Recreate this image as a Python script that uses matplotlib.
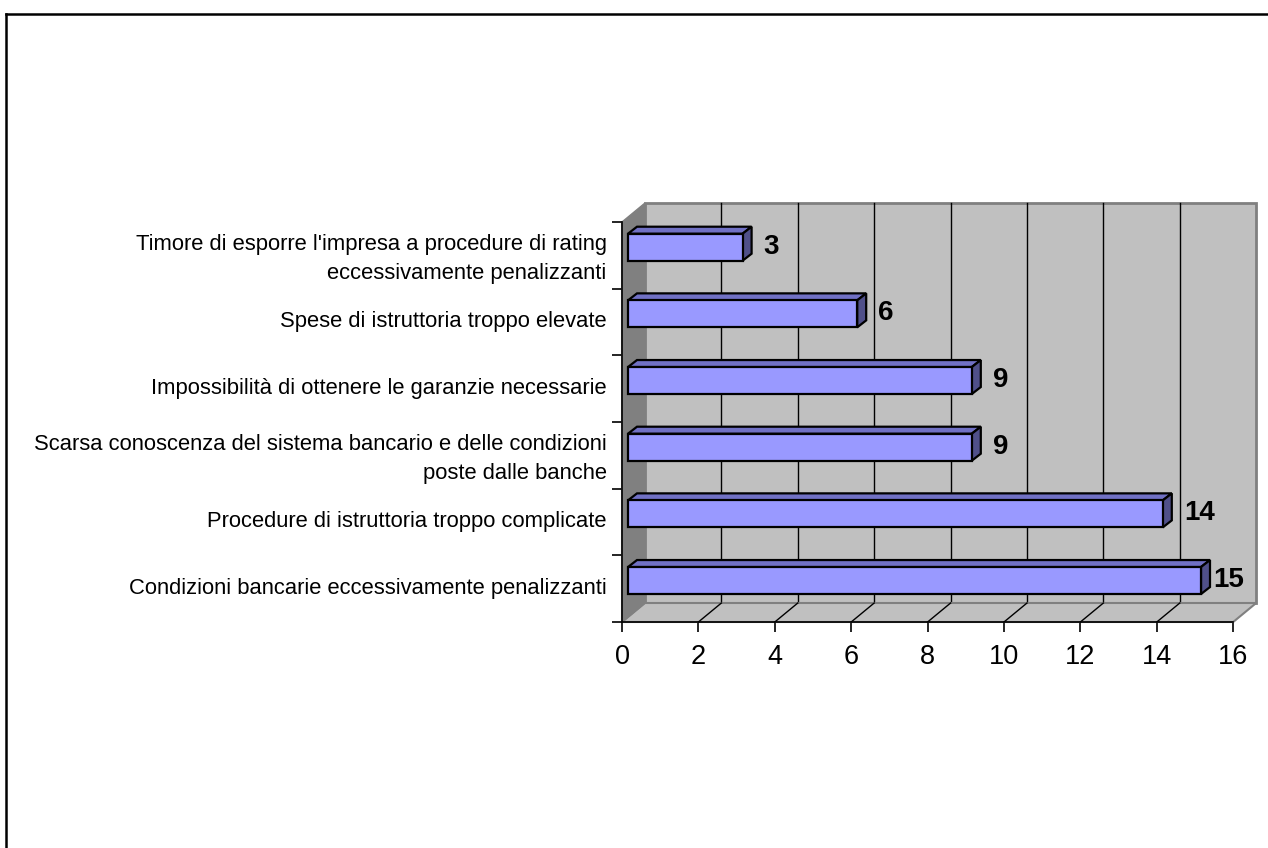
"""Grafico a barre orizzontali in stile Excel 3D: motivi del mancato ricorso al credito."""

import matplotlib
matplotlib.use("Agg")
import matplotlib.pyplot as plt
from matplotlib.patches import Polygon
from matplotlib.lines import Line2D

plt.rcParams["font.family"] = ["Liberation Sans", "DejaVu Sans"]

# categorie dal basso verso l'alto
categories = [
    "Condizioni bancarie eccessivamente penalizzanti",
    "Procedure di istruttoria troppo complicate",
    "Scarsa conoscenza del sistema bancario e delle condizioni\nposte dalle banche",
    "Impossibilità di ottenere le garanzie necessarie",
    "Spese di istruttoria troppo elevate",
    "Timore di esporre l'impresa a procedure di rating\neccessivamente penalizzanti",
]
values = [15, 14, 9, 9, 6, 3]
x_ticks = [0, 2, 4, 6, 8, 10, 12, 14, 16]

W, H = 1268, 848
PX_X = 611.2 / 16      # pixel per unità sull'asse x
PX_Y = 400 / 6         # pixel per categoria

# profondità delle pareti (prospettiva) in unità dati
DX, DY = 23 / PX_X, 19 / PX_Y
# geometria barre
B_X0 = 6 / PX_X
B_YC = 0.622
B_H = 27 / PX_Y
B_DX, B_DY = 9 / PX_X, 7 / PX_Y

FRONT = "#9999FF"
TOP = "#7070C4"
SIDE = "#50508A"
WALL = "#C0C0C0"
SIDE_WALL = "#808080"
EDGE = "#808080"

fig = plt.figure(figsize=(W / 100, H / 100), dpi=100)
ax = fig.add_axes([622 / W, (H - 622) / H, 611.2 / W, 400 / H])
ax.set_xlim(0, 16)
ax.set_ylim(0, 6)
ax.set_facecolor("none")
n = len(categories)

# parete di fondo
ax.add_patch(Polygon([(DX, DY), (16 + DX, DY), (16 + DX, n + DY), (DX, n + DY)],
                     closed=True, fc=WALL, ec=EDGE, lw=2, clip_on=False, zorder=1))
# griglia verticale sulla parete
for t in x_ticks[1:-1]:
    ax.plot([t + DX, t + DX], [DY, n + DY], color="black", lw=1, clip_on=False, zorder=1.5)
# pavimento
ax.add_patch(Polygon([(0, 0), (16, 0), (16 + DX, DY), (DX, DY)],
                     closed=True, fc=WALL, ec=EDGE, lw=1.5, clip_on=False, zorder=2))
for t in x_ticks[1:-1]:
    ax.plot([t, t + DX], [0, DY], color="black", lw=1, clip_on=False, zorder=2.5)
# parete laterale
ax.add_patch(Polygon([(0, 0), (DX, DY), (DX, n + DY), (0, n)],
                     closed=True, fc=SIDE_WALL, ec=EDGE, lw=1, clip_on=False, zorder=2))

# barre 3D
for i, v in enumerate(values):
    y0 = i + B_YC - B_H / 2
    y1 = y0 + B_H
    x0, x1 = B_X0, B_X0 + v
    top = [(x0, y1), (x1, y1), (x1 + B_DX, y1 + B_DY), (x0 + B_DX, y1 + B_DY)]
    side = [(x1, y0), (x1 + B_DX, y0 + B_DY), (x1 + B_DX, y1 + B_DY), (x1, y1)]
    front = [(x0, y0), (x1, y0), (x1, y1), (x0, y1)]
    for pts, c in ((top, TOP), (side, SIDE), (front, FRONT)):
        ax.add_patch(Polygon(pts, closed=True, fc=c, ec="black", lw=1.6,
                             joinstyle="miter", clip_on=False, zorder=4))
    # l'etichetta non esce dall'area del grafico
    lx = min(x1 + B_DX + 12 / PX_X, 16 + DX - 43 / PX_X)
    ax.text(lx, i + B_YC + 0.01, str(v), fontsize=20, fontweight="bold",
            ha="left", va="center", zorder=5)

# assi
for s in ("top", "right"):
    ax.spines[s].set_visible(False)
ax.spines["left"].set_linewidth(1.2)
ax.spines["bottom"].set_linewidth(1.2)
ax.spines["left"].set_zorder(3)
ax.spines["bottom"].set_zorder(3)

ax.set_xticks(x_ticks)
ax.set_xticklabels([str(t) for t in x_ticks])
ax.tick_params(axis="x", direction="out", length=7, width=1.2, labelsize=19.5, pad=9)

ax.set_yticks(range(n + 1))
ax.set_yticklabels([])
ax.set_yticks([i + 0.54 for i in range(n)], minor=True)
ax.set_yticklabels(categories, minor=True, ha="right", multialignment="right",
                   linespacing=1.48)
ax.tick_params(axis="y", which="major", direction="out", length=7, width=1.2)
ax.tick_params(axis="y", which="minor", length=0, labelsize=15.8, pad=11)

# cornice dell'immagine (solo bordo sinistro e superiore)
fig.add_artist(Line2D([6 / W, 6 / W], [0, 1 - 14 / H], color="black", lw=1.8))
fig.add_artist(Line2D([6 / W, 1], [1 - 14 / H, 1 - 14 / H], color="black", lw=1.8))

fig.savefig("out.png", dpi=100, facecolor="white")
